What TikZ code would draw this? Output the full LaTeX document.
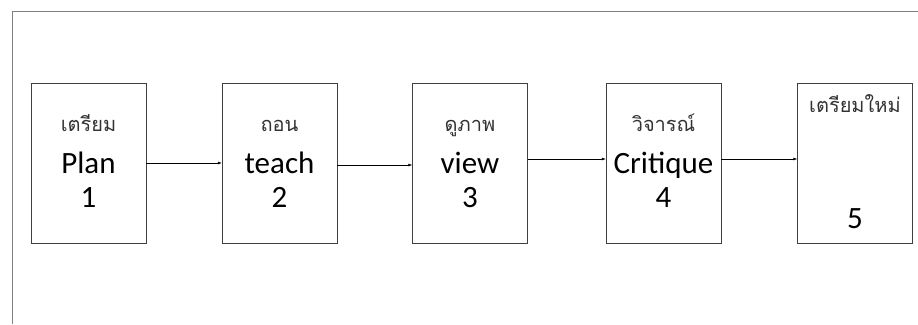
\documentclass[tikz,border=0pt]{standalone}
\usepackage{fontspec}
\setmainfont{Carlito}
\newfontfamily\thaifont[Script=Thai]{Loma}
\usetikzlibrary{arrows.meta}

\begin{document}
\begin{tikzpicture}[x=1pt,y=1pt,
    stepbox/.style={draw=black!75, minimum width=115pt, minimum height=160pt, inner sep=0pt},
    thai/.style={anchor=base, inner sep=0pt, font=\thaifont\fontsize{20}{24}\selectfont, text=black!80},
    word/.style={anchor=base, inner sep=0pt, font=\fontsize{31}{36}\selectfont},
    link/.style={-{Latex[length=4pt,width=3pt]}, line width=.6pt}]
             \useasboundingbox (0,0) rectangle (918,324);
             % outer frame
             \draw[black!50, line width=.8pt] (12,0) -- (12,313) -- (918,313);

             \node[stepbox] (plan) at (88.5,161) {};
             \node[stepbox] (teach) at (279.5,161) {};
             \node[stepbox] (view) at (470,161) {};
             \node[stepbox] (crit) at (663.5,161) {};
             \node[stepbox] (again) at (855,161) {};

             \node[thai] at ([yshift=31]plan.center) {เตรียม};
             \node[word] at ([yshift=-11]plan.center) {Plan};
             \node[word] at ([yshift=-45]plan.center) {1};

             \node[thai] at ([yshift=31]teach.center) {ถอน};
             \node[word] at ([yshift=-11]teach.center) {teach};
             \node[word] at ([yshift=-45]teach.center) {2};

             \node[thai] at ([yshift=31]view.center) {ดูภาพ};
             \node[word] at ([yshift=-11]view.center) {view};
             \node[word] at ([yshift=-45]view.center) {3};

             \node[thai] at ([yshift=31]crit.center) {วิจารณ์};
             \node[word] at ([yshift=-11]crit.center) {Critique};
             \node[word] at ([yshift=-45]crit.center) {4};

             \node[thai] at ([yshift=50]again.center) {เตรียมใหม่};
             \node[word] at ([yshift=-66]again.center) {5};

             \draw[link] ([yshift=0]plan.east) -- ([yshift=0]teach.west);
             \draw[link] ([yshift=-2]teach.east) -- ([yshift=-2]view.west);
             \draw[link] ([yshift=4]view.east) -- ([yshift=4]crit.west);
             \draw[link] ([yshift=4]crit.east) -- ([yshift=4]again.west);
\end{tikzpicture}
\end{document}
